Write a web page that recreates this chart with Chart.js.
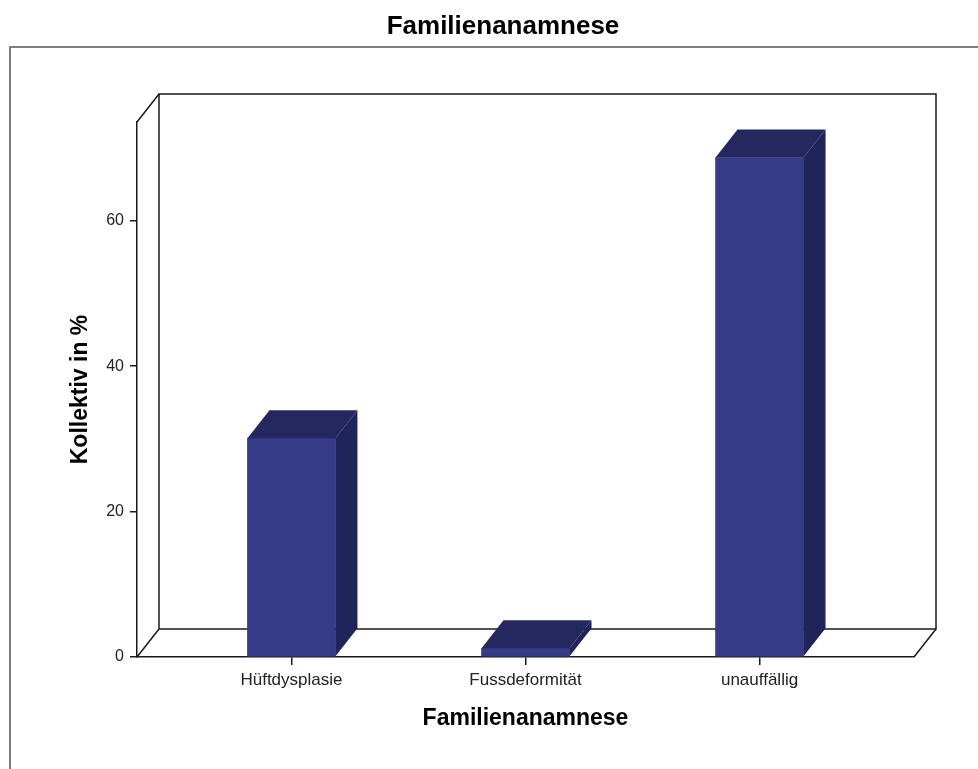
<!DOCTYPE html>
<html><head><meta charset="utf-8">
<script src="https://cdn.jsdelivr.net/npm/chart.js@4.4.1/dist/chart.umd.min.js"></script>
<style>html,body{margin:0;padding:0;background:#fff}canvas{display:block}</style>
</head><body>
<canvas id="c" width="978" height="769"></canvas>
<script>
const categories = ['Hüftdysplasie', 'Fussdeformität', 'unauffällig'];
const percentValues = [30.1, 1.2, 68.7];
const yTickValues = [0, 20, 40, 60];
const chartTitle = 'Familienanamnese';
const xAxisTitle = 'Familienanamnese';
const yAxisTitle = 'Kollektiv in %';

const DEPTH_X = 22, DEPTH_Y = -28;
const FRONT = '#353b87', TOPC = '#25275f', SIDE = '#1f2459', LINE = '#1a1a1a';
const FONT = "'Liberation Sans', Arial, sans-serif";

const box3d = {
  id: 'box3d',
  beforeDraw(chart) {
    const ctx = chart.ctx;
    ctx.save();
    ctx.fillStyle = '#fff';
    ctx.fillRect(0, 0, chart.width, chart.height);
    ctx.strokeStyle = '#7d7d7d';
    ctx.lineWidth = 2;
    ctx.beginPath();
    ctx.moveTo(10, chart.height);
    ctx.lineTo(10, 47);
    ctx.lineTo(chart.width, 47);
    ctx.stroke();
    ctx.restore();
  },
  beforeDatasetsDraw(chart) {
    const { ctx, chartArea: a } = chart;
    ctx.save();
    ctx.strokeStyle = LINE;
    ctx.lineWidth = 1.5;
    ctx.strokeRect(a.left + DEPTH_X, a.top + DEPTH_Y, a.right - a.left, a.bottom - a.top);
    ctx.beginPath();
    ctx.moveTo(a.left, a.top); ctx.lineTo(a.left + DEPTH_X, a.top + DEPTH_Y);
    ctx.moveTo(a.left, a.bottom); ctx.lineTo(a.left + DEPTH_X, a.bottom + DEPTH_Y);
    ctx.moveTo(a.right, a.bottom); ctx.lineTo(a.right + DEPTH_X, a.bottom + DEPTH_Y);
    ctx.stroke();
    ctx.restore();
  },
  afterDatasetsDraw(chart) {
    const ctx = chart.ctx;
    const meta = chart.getDatasetMeta(0);
    ctx.save();
    meta.data.forEach(el => {
      const { x, y, base, width } = el.getProps(['x', 'y', 'base', 'width'], true);
      const x1 = x - width / 2, x2 = x + width / 2;
      ctx.fillStyle = SIDE;
      ctx.beginPath();
      ctx.moveTo(x2, y); ctx.lineTo(x2 + DEPTH_X, y + DEPTH_Y);
      ctx.lineTo(x2 + DEPTH_X, base + DEPTH_Y); ctx.lineTo(x2, base);
      ctx.closePath(); ctx.fill();
      ctx.fillStyle = TOPC;
      ctx.beginPath();
      ctx.moveTo(x1, y); ctx.lineTo(x1 + DEPTH_X, y + DEPTH_Y);
      ctx.lineTo(x2 + DEPTH_X, y + DEPTH_Y); ctx.lineTo(x2, y);
      ctx.closePath(); ctx.fill();
    });
    ctx.restore();
  }
};

new Chart(document.getElementById('c'), {
  type: 'bar',
  data: {
    datasets: [{
      data: percentValues.map((v, i) => ({ x: i, y: v })),
      backgroundColor: FRONT,
      borderWidth: 0,
      barThickness: 88
    }]
  },
  options: {
    responsive: false,
    animation: false,
    devicePixelRatio: 1,
    layout: { padding: { left: 28, top: 0, right: 0, bottom: 0 } },
    plugins: {
      legend: { display: false },
      tooltip: { enabled: false },
      title: {
        display: true,
        text: chartTitle,
        color: '#000',
        font: { family: FONT, size: 26, weight: 'bold' },
        padding: { top: 11, bottom: 79.8 }
      }
    },
    scales: {
      x: {
        type: 'linear',
        min: -0.66,
        max: 2.66,
        offset: false,
        afterBuildTicks: s => { s.ticks = categories.map((c, i) => ({ value: i })); },
        afterFit: s => { s.height = 112; },
        ticks: {
          autoSkip: false, maxRotation: 0, padding: 5,
          color: '#222',
          font: { family: FONT, size: 17 },
          callback: (v, i) => categories[i]
        },
        grid: { drawOnChartArea: false, offset: false, tickLength: 8, color: LINE, lineWidth: 1.5 },
        border: { display: true, color: LINE, width: 1.5 },
        title: {
          display: true, text: xAxisTitle, color: '#000',
          font: { family: FONT, size: 23, weight: 'bold' },
          padding: { top: 0, bottom: 37 }
        }
      },
      y: {
        min: 0,
        max: 73.6,
        afterBuildTicks: s => { s.ticks = yTickValues.map(v => ({ value: v })); },
        afterFit: s => { s.width = 109; },
        ticks: { padding: 6, color: '#222', font: { family: FONT, size: 16 } },
        grid: { drawOnChartArea: false, tickLength: 7, color: LINE, lineWidth: 1.5 },
        border: { display: true, color: LINE, width: 1.5 },
        title: {
          display: true, text: yAxisTitle, color: '#000',
          font: { family: FONT, size: 23, weight: 'bold' },
          padding: { top: 39, bottom: 0 }
        }
      },
      yRight: {
        type: 'linear',
        position: 'right',
        display: true,
        afterFit: s => { s.width = 64; },
        ticks: { display: false },
        grid: { display: false, drawTicks: false },
        border: { display: false }
      }
    }
  },
  plugins: [box3d]
});
</script>
</body></html>
